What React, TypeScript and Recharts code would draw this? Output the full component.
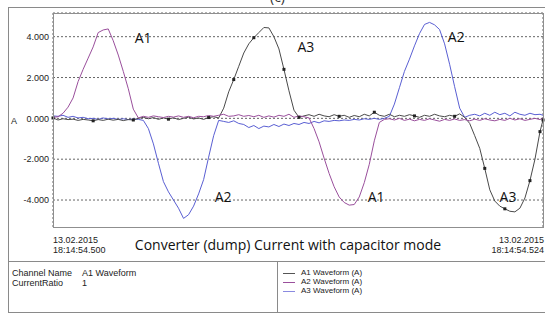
import { LineChart, Line, XAxis, YAxis, CartesianGrid, ReferenceDot } from "recharts";

// sample times in ms from 18:14:54.500
const time = [
  0, 0.25, 0.5, 0.75, 1, 1.25, 1.5, 1.75, 2, 2.25, 2.5, 2.75,
  3, 3.25, 3.5, 3.75, 4, 4.25, 4.5, 4.75, 5, 5.25, 5.5, 5.75,
  6, 6.25, 6.5, 6.75, 7, 7.25, 7.5, 7.75, 8, 8.25, 8.5, 8.75,
  9, 9.25, 9.5, 9.75, 10, 10.25, 10.5, 10.75, 11, 11.25, 11.5, 11.75,
  12, 12.25, 12.5, 12.75, 13, 13.25, 13.5, 13.75, 14, 14.25, 14.5, 14.75,
  15, 15.25, 15.5, 15.75, 16, 16.25, 16.5, 16.75, 17, 17.25, 17.5, 17.75,
  18, 18.25, 18.5, 18.75, 19, 19.25, 19.5, 19.75, 20, 20.25, 20.5, 20.75,
  21, 21.25, 21.5, 21.75, 22, 22.25, 22.5, 22.75, 23, 23.25, 23.5, 23.75,
  24, 24.25, 24.4,
];

const a1Waveform = [
  0.02, -0.08, -0.02, -0.06, -0.04, -0.1, -0.05, -0.08, -0.12, -0.06, -0.1, -0.04,
  -0.09, -0.05, -0.11, -0.06, -0.08, 0.0, 0.05, -0.02, 0.04, -0.05, 0.02, -0.04,
  0.03, -0.06, 0.0, 0.06, -0.03, 0.02, -0.05, 0.04, 0.08, 0.02, 0.5, 1.3,
  1.9, 2.55, 3.2, 3.65, 3.95, 4.2, 4.45, 4.43, 4.0, 3.4, 2.4, 1.35,
  0.4, 0.05, 0.12, 0.18, 0.1, 0.2, 0.12, 0.08, 0.18, 0.1, 0.15, 0.05,
  0.14, 0.08, 0.2, 0.12, 0.3, 0.15, 0.1, 0.2, 0.08, 0.15, 0.1, 0.18,
  0.12, 0.05, 0.15, 0.1, 0.2, 0.12, 0.08, 0.15, 0.1, 0.22, 0.05, -0.25,
  -0.85, -1.47, -2.45, -3.5, -4.05, -4.3, -4.43, -4.55, -4.58, -4.4, -3.9, -3.05,
  -2.0, -0.65, -0.08,
];

const a2Waveform = [
  0.05, 0.08, 0.25, 0.55, 1.0, 1.8, 2.4, 2.95, 3.5, 4.2, 4.33, 4.38,
  3.8, 3.1, 2.3, 1.45, 0.45, 0.02, 0.1, 0.05, 0.12, 0.08, 0.04, 0.1,
  0.06, 0.12, 0.05, 0.1, 0.03, 0.1, 0.08, 0.14, 0.1, 0.15, 0.2, 0.1,
  0.12, 0.18, 0.1, 0.14, 0.08, 0.15, 0.05, 0.12, 0.06, 0.15, 0.1, 0.2,
  0.05, 0.12, 0.08, 0.02, -0.5, -1.15, -1.95, -2.7, -3.35, -3.85, -4.12, -4.25,
  -4.22, -3.85, -3.15, -2.25, -1.1, -0.2, -0.05, -0.02, -0.08, 0.0, -0.1, -0.04,
  -0.12, -0.05, -0.1, -0.02, -0.08, -0.14, -0.05, -0.1, -0.03, -0.1, -0.06, -0.12,
  -0.04, -0.1, -0.02, -0.08, -0.12, -0.05, -0.1, 0.0, -0.08, -0.02, -0.1, -0.05,
  0.0, -0.06, 0.02,
];

const a3Waveform = [
  0.12, 0.1, 0.15, 0.05, 0.1, 0.02, 0.05, -0.02, 0.0, -0.05, 0.02, -0.03,
  0.0, -0.05, -0.02, -0.06, -0.03, -0.05, -0.1, -0.5, -1.25, -2.2, -3.1, -3.6,
  -4.0, -4.4, -4.9, -4.72, -4.3, -3.7, -3.0, -1.9, -0.85, -0.1, -0.15, -0.2,
  -0.12, -0.25, -0.3, -0.45, -0.35, -0.5, -0.38, -0.42, -0.3, -0.4, -0.28, -0.35,
  -0.25, -0.3, -0.2, -0.25, -0.15, -0.22, -0.12, -0.15, -0.1, -0.12, -0.08, -0.1,
  -0.05, -0.08, -0.02, -0.05, 0.0, -0.05, 0.0, 0.1, 0.7, 1.5, 2.3, 2.9,
  3.55, 4.15, 4.6, 4.7, 4.58, 4.35, 3.65, 2.65, 1.55, 0.5, 0.05, 0.15,
  0.2, 0.12, 0.25, 0.15, 0.3, 0.18, 0.25, 0.12, 0.3, 0.2, 0.15, 0.25,
  0.18, 0.2, 0.15,
];

// samples of A1 that carry a square marker
const markerTimes = [0, 2, 4, 5.75, 7.75, 9, 10, 11.5, 12.25, 14.25, 16, 18, 20, 21.5, 22.5, 23.75, 24.25, 24.4];

const yTicks = [-4, -2, 0, 2, 4];
const xTicks = [4, 8, 12, 16, 20, 24];

const phaseLabels = [
  { text: "A1", t: 4.07, v: 3.94 },
  { text: "A3", t: 12.17, v: 3.5 },
  { text: "A2", t: 19.66, v: 3.98 },
  { text: "A2", t: 8.05, v: -3.84 },
  { text: "A1", t: 15.67, v: -3.84 },
  { text: "A3", t: 22.24, v: -3.84 },
];

const legendItems = [
  { name: "A1 Waveform (A)", color: "#555555" },
  { name: "A2 Waveform (A)", color: "#9a4f9c" },
  { name: "A3 Waveform (A)", color: "#8a8ae0" },
];

const data = time.map((t, i) => ({
  t,
  a1: a1Waveform[i],
  a2: a2Waveform[i],
  a3: a3Waveform[i],
}));

const markerSet = new Set(markerTimes);

const renderMarker = (props: any) => {
  const { cx, cy, index } = props;
  if (!markerSet.has(time[index])) return <g key={`m${index}`} />;
  return <rect key={`m${index}`} x={cx - 1.5} y={cy - 1.5} width={3} height={3} fill="#222" />;
};

const sans = "'Liberation Sans', Arial, sans-serif";
const open = "'Open Sans', sans-serif";

const small: React.CSSProperties = {
  position: "absolute",
  fontFamily: sans,
  fontSize: 9,
  color: "#222",
  lineHeight: "10px",
  whiteSpace: "nowrap",
};

export default function App() {
  return (
    <div style={{ position: "absolute", left: 0, top: 0, width: 545, height: 315, overflow: "hidden", background: "#fff" }}>
      <div style={{ position: "absolute", left: 270, top: -13, fontFamily: open, fontSize: 14, color: "#333" }}>(c)</div>

      {/* outer frame */}
      <div style={{ position: "absolute", left: 8, top: 7, width: 545, height: 306, border: "1px solid #8a8a8a", boxSizing: "border-box" }} />
      <div style={{ position: "absolute", left: 8, top: 261, width: 545, height: 1, background: "#8a8a8a" }} />
      <div style={{ position: "absolute", left: 277, top: 261, width: 1, height: 52, background: "#8a8a8a" }} />

      <div style={{ position: "absolute", left: 0, top: 0 }}>
        <LineChart width={545} height={228} data={data} margin={{ top: 13, right: 2, bottom: 0, left: 0 }}>
          <CartesianGrid stroke="#666" strokeDasharray="2 2" />
          <XAxis
            type="number"
            dataKey="t"
            domain={[0, 24.4]}
            ticks={xTicks}
            tick={false}
            tickLine={false}
            axisLine={false}
            height={0}
          />
          <YAxis
            type="number"
            domain={[-5.37, 5.16]}
            ticks={yTicks}
            width={53}
            tickSize={0}
            tickMargin={4}
            axisLine={false}
            tickLine={false}
            tickFormatter={(v: number) => v.toFixed(3)}
            tick={{ fontSize: 9, fontFamily: sans, fill: "#222" }}
          />
          <Line type="linear" dataKey="a3" stroke="#5a5fd3" strokeWidth={1} dot={false} isAnimationActive={false} />
          <Line type="linear" dataKey="a1" stroke="#4a4a4a" strokeWidth={1} dot={renderMarker} isAnimationActive={false} />
          <Line type="linear" dataKey="a2" stroke="#9a4f9c" strokeWidth={1} dot={false} isAnimationActive={false} />
          {phaseLabels.map((p, i) => (
            <ReferenceDot
              key={i}
              x={p.t}
              y={p.v}
              ifOverflow="visible"
              shape={(props: any) => (
                <text x={props.cx} y={props.cy} dy={5} textAnchor="start" fontFamily={open} fontSize={14} fill="#111">
                  {p.text}
                </text>
              )}
            />
          ))}
        </LineChart>
      </div>

      {/* plot border */}
      <div style={{ position: "absolute", left: 53, top: 13, width: 491, height: 215, border: "1px solid #8f8f8f", boxSizing: "border-box" }} />

      <div style={{ ...small, left: 11, top: 116 }}>A</div>

      <div style={{ ...small, left: 53, top: 235 }}>13.02.2015</div>
      <div style={{ ...small, left: 53, top: 245 }}>18:14:54.500</div>
      <div style={{ ...small, right: 1, top: 235, textAlign: "right" }}>13.02.2015</div>
      <div style={{ ...small, right: 1, top: 245, textAlign: "right" }}>18:14:54.524</div>

      <div style={{ position: "absolute", left: 0, width: 576, top: 235, textAlign: "center", fontFamily: open, fontSize: 14, lineHeight: "20px", color: "#111" }}>
        Converter (dump) Current with capacitor mode
      </div>

      <div style={{ ...small, left: 12, top: 268 }}>Channel Name</div>
      <div style={{ ...small, left: 82, top: 268 }}>A1 Waveform</div>
      <div style={{ ...small, left: 12, top: 278 }}>CurrentRatio</div>
      <div style={{ ...small, left: 82, top: 278 }}>1</div>

      {legendItems.map((item, i) => (
        <div key={item.name} style={{ ...small, left: 283, top: 268 + i * 9, fontSize: 8, display: "flex", alignItems: "center" }}>
          <span style={{ display: "inline-block", width: 12, height: 1, background: item.color, marginRight: 6 }} />
          {item.name}
        </div>
      ))}
    </div>
  );
}
